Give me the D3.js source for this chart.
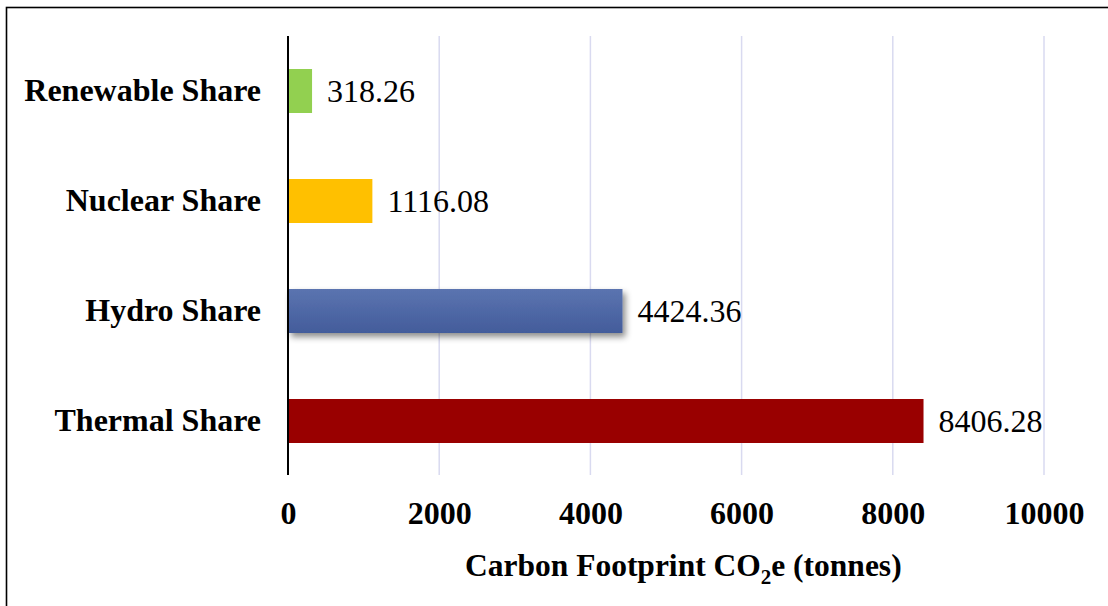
<!DOCTYPE html>
<html>
<head>
<meta charset="utf-8">
<script src="https://cdn.jsdelivr.net/npm/d3@7/dist/d3.min.js"></script>
<style>
  html, body { margin: 0; padding: 0; background: #ffffff; }
  svg { display: block; }
  text { font-family: "Liberation Serif", "Times New Roman", serif; }
</style>
</head>
<body>
<svg id="chart" width="1108" height="606"></svg>
<script>
// Carbon footprint by generation source
const categories = ["Renewable Share", "Nuclear Share", "Hydro Share", "Thermal Share"];
const values = [318.26, 1116.08, 4424.36, 8406.28];
const barColors = ["#92d050", "#ffc000", "url(#hydroGrad)", "#990000"];
const tickValues = [0, 2000, 4000, 6000, 8000, 10000];

const svg = d3.select("#chart");

const plot = { left: 288, right: 1044, top: 36, bottom: 475 };
const FONT = "'Liberation Serif', 'Times New Roman', serif";

const x = d3.scaleLinear().domain([0, 10000]).range([plot.left, plot.right]);
const y = d3.scaleBand().domain(categories).range([plot.top, plot.bottom + 1]).paddingInner(0.6).paddingOuter(0.3);

// definitions: gradient and shadow for the blue bar
const defs = svg.append("defs");
const grad = defs.append("linearGradient").attr("id", "hydroGrad")
  .attr("x1", 0).attr("y1", 0).attr("x2", 0).attr("y2", 1);
grad.append("stop").attr("offset", "0%").attr("stop-color", "#5b74b0");
grad.append("stop").attr("offset", "100%").attr("stop-color", "#435c9b");

const shadow = defs.append("filter").attr("id", "barShadow")
  .attr("x", "-5%").attr("y", "-30%").attr("width", "115%").attr("height", "170%");
shadow.append("feDropShadow").attr("dx", 3).attr("dy", 4).attr("stdDeviation", 3)
  .attr("flood-color", "#000").attr("flood-opacity", 0.45);

// outer frame
svg.append("rect")
  .attr("x", 6.5).attr("y", 7.5).attr("width", 1300).attr("height", 800)
  .attr("fill", "none").attr("stroke", "#000").attr("stroke-width", 1.6);

// vertical gridlines
svg.append("g")
  .selectAll("line")
  .data(tickValues.filter(d => d > 0))
  .join("line")
  .attr("x1", d => x(d)).attr("x2", d => x(d))
  .attr("y1", plot.top).attr("y2", plot.bottom)
  .attr("stroke", "#d9daf0").attr("stroke-width", 1.5);

// bars
svg.append("g")
  .selectAll("rect")
  .data(categories)
  .join("rect")
  .attr("x", x(0))
  .attr("y", d => y(d))
  .attr("width", (d, i) => x(values[i]) - x(0))
  .attr("height", y.bandwidth())
  .attr("fill", (d, i) => barColors[i])
  .attr("filter", (d, i) => i === 2 ? "url(#barShadow)" : null);

// value labels
svg.append("g")
  .selectAll("text")
  .data(categories)
  .join("text")
  .attr("x", (d, i) => x(values[i]) + 15)
  .attr("y", d => y(d) + y.bandwidth() / 2)
  .attr("dy", "0.35em")
  .attr("font-size", 32)
  .attr("fill", "#000")
  .text((d, i) => values[i].toFixed(2));

// category axis (left)
const yAxis = svg.append("g")
  .attr("transform", `translate(${plot.left},0)`)
  .call(d3.axisLeft(y).tickSize(0).tickPadding(27));
yAxis.select(".domain").remove();
svg.append("line")
  .attr("x1", plot.left).attr("x2", plot.left)
  .attr("y1", plot.top).attr("y2", plot.bottom)
  .attr("stroke", "#000").attr("stroke-width", 2);
yAxis.selectAll("text")
  .attr("font-family", FONT)
  .attr("font-size", 32).attr("font-weight", "bold").attr("fill", "#000")
  .attr("dy", "0.32em");

// value axis (bottom)
const xAxis = svg.append("g")
  .attr("transform", `translate(0,${plot.bottom})`)
  .call(d3.axisBottom(x).tickValues(tickValues).tickSize(0).tickPadding(26).tickFormat(d3.format("d")));
xAxis.select(".domain").remove();
xAxis.selectAll("text")
  .attr("font-family", FONT)
  .attr("font-size", 32).attr("font-weight", "bold").attr("fill", "#000");

// axis title with subscript
const title = svg.append("text")
  .attr("x", 465).attr("y", 576)
  .attr("font-size", 31.5).attr("font-weight", "bold").attr("fill", "#000");
title.append("tspan").text("Carbon Footprint CO");
title.append("tspan").attr("font-size", 21).attr("dy", 8).text("2");
title.append("tspan").attr("dy", -8).text("e (tonnes)");
</script>
</body>
</html>
